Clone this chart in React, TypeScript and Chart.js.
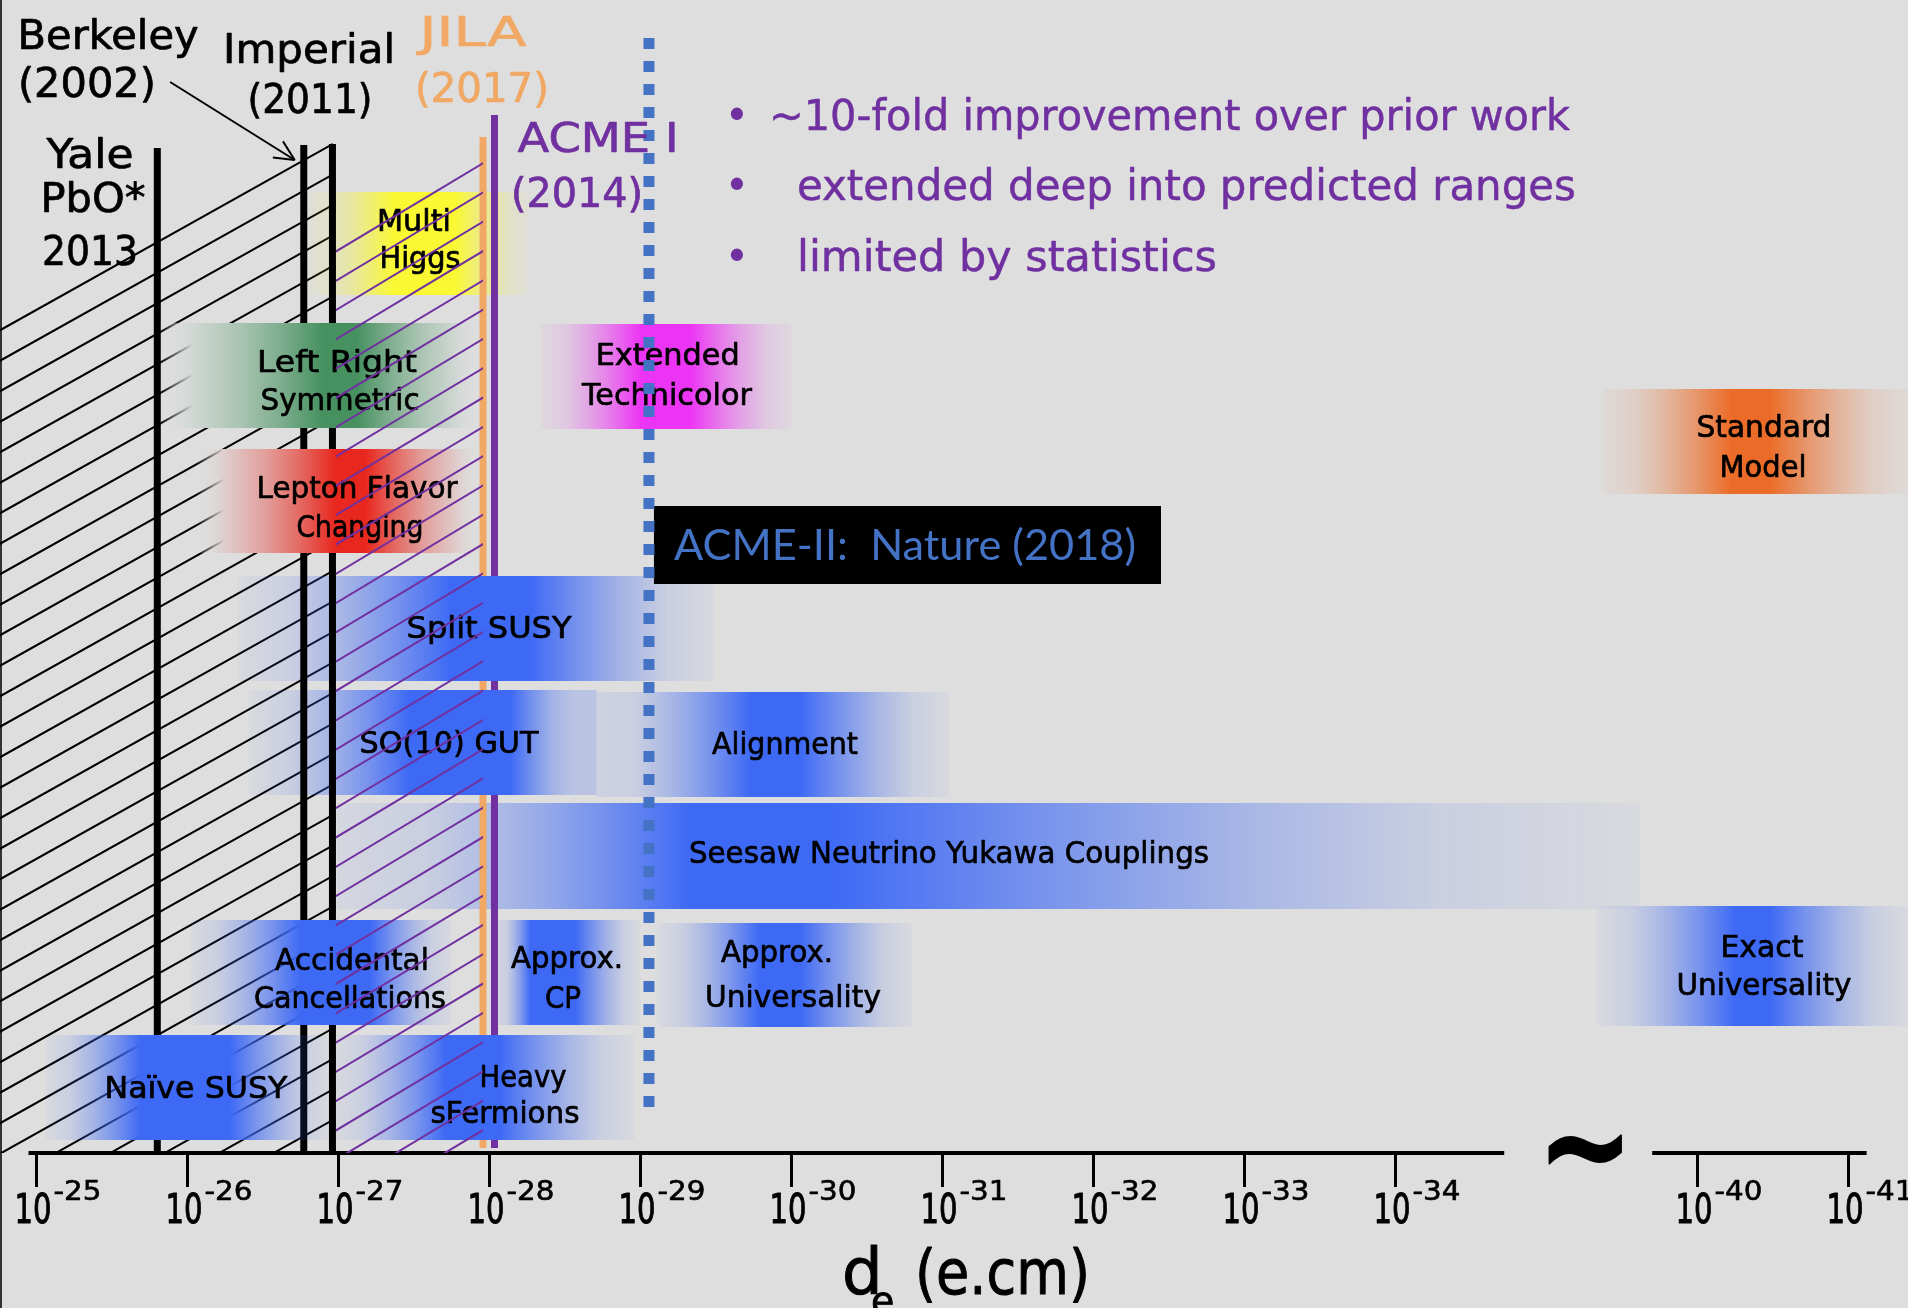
import React, { useEffect, useRef } from 'react';
import { Chart, registerables } from 'chart.js';

Chart.register(...registerables);

const FONT = "'DejaVu Sans', 'Noto Sans', sans-serif";
const BOX_FONT = "Lato, 'Open Sans', sans-serif";

// x value p stands for |d_e| = 10^-p e·cm ; the axis is broken between 10^-34 and 10^-40
const tickExponents = [25, 26, 27, 28, 29, 30, 31, 32, 33, 34, 40, 41];
const breakAfter = 35;
const breakShift = 4;
const expToPos = (e: number) => (e > breakAfter ? e - breakShift : e);

// axis line pieces (in axis position units)
const axisFrom = [24.947, 35.70];
const axisTo = [34.72, 37.12];

// experimental limits (log10 magnitude)
const limitNames = ['Yale PbO* 2013', 'Berkeley 2002', 'Imperial 2011', 'JILA 2017', 'ACME I 2014'];
const limitLog = [25.80, 26.77, 26.96, 27.957, 28.033];
const limitTop = [10.05, 10.08, 10.09, 10.16, 10.38];
const limitBottom = [0, 0, 0, 0.05, 0.05];
const acme2Log = 29.056;
const acme2Bottom = 0.40;
const acme2Top = 11.15;

// theory prediction bands (log10 magnitude ranges, rows)
const bandNames = [
  'Multi Higgs', 'Left Right Symmetric', 'Extended Technicolor', 'Standard Model',
  'Lepton Flavor Changing', 'Split SUSY', 'SO(10) GUT', 'Alignment',
  'Seesaw Neutrino Yukawa Couplings', 'Accidental Cancellations', 'Approx. CP',
  'Approx. Universality', 'Exact Universality', 'Naïve SUSY', 'Heavy sFermions',
];
const bandFrom = [26.80, 25.82, 28.34, 35.37, 26.06, 26.33, 26.41, 28.71, 26.99, 26.02, 28.06, 29.11, 35.33, 25.06, 26.98];
const bandCoreFrom = [27.37, 26.90, 29.00, 36.22, 26.98, 27.74, 27.47, 29.73, 29.33, 26.75, 28.27, 29.79, 36.25, 25.69, 27.71];
const bandCoreTo = [27.77, 27.12, 29.33, 36.48, 27.18, 28.27, 28.14, 30.06, 30.26, 27.21, 28.57, 30.06, 36.48, 26.28, 28.07];
const bandTo = [28.26, 27.94, 30.00, 37.40, 27.94, 29.49, 28.71, 31.05, 35.62, 27.75, 29.00, 30.80, 37.40, 26.94, 28.96];
const bandLow = [8.58, 7.25, 7.24, 6.59, 6.00, 4.72, 3.58, 3.56, 2.44, 1.28, 1.28, 1.26, 1.27, 0.13, 0.13];
const bandHigh = [9.61, 8.30, 8.29, 7.64, 7.04, 5.77, 4.63, 4.61, 3.50, 2.33, 2.33, 2.30, 2.47, 1.18, 1.18];

// styles
const BG = [222, 222, 222];
const BLUE = [62, 105, 245];
const bandRgb = [
  [250, 248, 50], [70, 145, 95], [236, 52, 244], [235, 108, 40], [232, 40, 30],
  BLUE, BLUE, BLUE, BLUE, BLUE, BLUE, BLUE, BLUE, BLUE, BLUE,
];
const bandEdge = [
  [0.03, 0.03], [0.03, 0.03], [0.03, 0.03], [0.03, 0.03], [0.03, 0.03],
  [0.03, 0.03], [0.03, 0.22], [0.1, 0.03], [0.06, 0.03], [0.03, 0.03],
  [0.1, 0.03], [0.03, 0.03], [0.03, 0.03], [0.03, 0.03], [0.03, 0.03],
];
// fraction of the fade over which a band stays opaque (0 = fade by transparency only)
const bandSolid = [0, 0.8, 0, 0, 0.8, 0, 0, 0, 0, 0, 0, 0, 0, 0, 0];
const bandLayer = [10, 6, 10, 10, 6, 8, 8, 10, 10, 6, 10, 10, 10, 6, 8];
const limitColors = ['#000', '#000', '#000', '#f0a864', '#7030a0'];
const limitLayer = [7, 7, 7, 9, 9];

const PURPLE = '#7030a0';
const ORANGE = '#f0a864';

const bandLabels = [
  { t: 'Multi', x: 27.50, y: 9.22, w: 74 },
  { t: 'Higgs', x: 27.54, y: 8.85, w: 81 },
  { t: 'Left Right', x: 26.99, y: 7.81, w: 160 },
  { t: 'Symmetric', x: 27.01, y: 7.43, w: 159 },
  { t: 'Extended', x: 29.18, y: 7.88, w: 144 },
  { t: 'Technicolor', x: 29.175, y: 7.48, w: 170 },
  { t: 'Standard', x: 36.44, y: 7.16, w: 135 },
  { t: 'Model', x: 36.434, y: 6.76, w: 87 },
  { t: 'Lepton Flavor', x: 27.123, y: 6.55, w: 201 },
  { t: 'Changing', x: 27.142, y: 6.16, w: 127 },
  { t: 'Split SUSY', x: 27.997, y: 5.15, w: 165 },
  { t: 'SO(10) GUT', x: 27.732, y: 4.00, w: 179 },
  { t: 'Alignment', x: 29.957, y: 3.99, w: 146 },
  { t: 'Seesaw Neutrino Yukawa Couplings', x: 31.043, y: 2.90, w: 520 },
  { t: 'Accidental', x: 27.089, y: 1.83, w: 154 },
  { t: 'Cancellations', x: 27.076, y: 1.45, w: 192 },
  { t: 'Approx.', x: 28.513, y: 1.85, w: 112 },
  { t: 'CP', x: 28.487, y: 1.45, w: 36 },
  { t: 'Approx.', x: 29.904, y: 1.91, w: 112 },
  { t: 'Universality', x: 30.010, y: 1.46, w: 176 },
  { t: 'Exact', x: 36.427, y: 1.96, w: 83 },
  { t: 'Universality', x: 36.44, y: 1.58, w: 175 },
  { t: 'Naïve SUSY', x: 26.056, y: 0.55, w: 183 },
  { t: 'Heavy', x: 28.222, y: 0.66, w: 87 },
  { t: 'sFermions', x: 28.103, y: 0.30, w: 149 },
];

const topLabels = [
  { t: 'Berkeley', x: 25.474, y: 11.04, w: 181, c: '#000' },
  { t: '(2002)', x: 25.334, y: 10.56, w: 138, c: '#000' },
  { t: 'Imperial', x: 26.805, y: 10.90, w: 172, c: '#000' },
  { t: '(2011)', x: 26.811, y: 10.40, w: 125, c: '#000' },
  { t: 'Yale', x: 25.354, y: 9.85, w: 87, c: '#000' },
  { t: 'PbO*', x: 25.374, y: 9.41, w: 105, c: '#000' },
  { t: '2013', x: 25.354, y: 8.88, w: 96, c: '#000' },
  { t: 'JILA', x: 27.891, y: 11.07, w: 107, c: ORANGE },
  { t: '(2017)', x: 27.950, y: 10.51, w: 134, c: ORANGE },
  { t: 'ACME I', x: 28.719, y: 10.01, w: 161, c: PURPLE },
  { t: '(2014)', x: 28.580, y: 9.46, w: 132, c: PURPLE },
];

const bulletLines = [
  '~10-fold improvement over prior work',
  'extended deep into predicted ranges',
  'limited by statistics',
];
const bulletX = [29.851, 30.036, 30.036];
const bulletY = [10.23, 9.53, 8.82];
const bulletW = [801, 779, 420];
const bulletDotX = 29.639;

const arrowFrom = { x: 25.885, y: 10.71 };
const arrowTo = { x: 26.71, y: 9.93 };

const boxFrom = 29.089, boxTo = 32.447, boxLow = 5.69, boxHigh = 6.47;

const blackHatch = {
  xs: [24.758, 26.961, 26.961, 24.758], vs: [8.28, 10.11, 0, 0],
  ax: 26.961, av: 10.09, slope: 0.56, gap: 30.5, color: '#000', width: 2,
};
const purpleHatch = {
  xs: [26.983, 27.957, 27.957, 26.983], vs: [9.036, 9.918, 0, 0],
  ax: 27.937, av: 9.88, slope: 0.6, gap: 29.3, color: PURPLE, width: 2,
};

const clamp01 = (v: number) => Math.max(0, Math.min(1, v));

function bandGradient(chart: any, i: number) {
  const xs = chart.scales && chart.scales.x;
  if (!xs || !chart.chartArea) return 'rgba(0,0,0,0)';
  const x0 = xs.getPixelForValue(bandFrom[i]);
  const c0 = xs.getPixelForValue(bandCoreFrom[i]);
  const c1 = xs.getPixelForValue(bandCoreTo[i]);
  const x1 = xs.getPixelForValue(bandTo[i]);
  const span = x1 - x0;
  const g = chart.ctx.createLinearGradient(x0, 0, x1, 0);
  const rgb = bandRgb[i];
  const [eL, eR] = bandEdge[i];
  const solid = bandSolid[i];
  const colAt = (d: number, edge: number) => {
    const f = Math.pow(1 - d, 1.5);
    if (solid > 0) {
      const m = rgb.map((c, k) => Math.round(BG[k] + (c - BG[k]) * f));
      const a = d <= solid ? 1 : Math.max(edge, 1 - (d - solid) / (1 - solid));
      return `rgba(${m[0]},${m[1]},${m[2]},${a})`;
    }
    return `rgba(${rgb[0]},${rgb[1]},${rgb[2]},${Math.max(edge, f)})`;
  };
  const ds = solid > 0 ? [0, 0.25, 0.5, solid, 1] : [0, 0.25, 0.5, 0.75, 1];
  for (const d of [...ds].reverse()) {
    const x = c0 - (c0 - x0) * d;
    g.addColorStop(clamp01((x - x0) / span), colAt(d, eL));
  }
  for (const d of ds) {
    const x = c1 + (x1 - c1) * d;
    g.addColorStop(clamp01((x - x0) / span), colAt(d, eR));
  }
  return g;
}

function drawHatch(chart: any, h: any) {
  const ctx = chart.ctx;
  const xs = chart.scales.x, ys = chart.scales.y;
  const px = h.xs.map((v: number) => xs.getPixelForValue(v));
  const py = h.vs.map((v: number) => ys.getPixelForValue(v));
  ctx.save();
  ctx.beginPath();
  px.forEach((x: number, i: number) => (i ? ctx.lineTo(x, py[i]) : ctx.moveTo(x, py[i])));
  ctx.closePath();
  ctx.clip();
  const X0 = Math.min(...px) - 5, X1 = Math.max(...px) + 5;
  const ax = xs.getPixelForValue(h.ax), ay = ys.getPixelForValue(h.av);
  ctx.strokeStyle = h.color;
  ctx.lineWidth = h.width;
  ctx.beginPath();
  for (let k = -60; k <= 60; k++) {
    ctx.moveTo(X0, ay + h.slope * (ax - X0) + k * h.gap);
    ctx.lineTo(X1, ay + h.slope * (ax - X1) + k * h.gap);
  }
  ctx.stroke();
  ctx.restore();
}

function drawAt(ctx: any, s: string, x: number, y: number, size: number, width: number | null,
  color: string, align: string, family = FONT, weight = 'normal', stroke = 0) {
  ctx.save();
  ctx.font = `${weight} ${size}px ${family}`;
  ctx.fillStyle = color;
  ctx.strokeStyle = color;
  ctx.textBaseline = 'alphabetic';
  ctx.textAlign = align;
  const w = ctx.measureText(s).width;
  ctx.translate(x, y);
  if (width && w > 0) ctx.scale(width / w, 1);
  ctx.fillText(s, 0, 0);
  if (stroke > 0) {
    ctx.lineWidth = stroke;
    ctx.lineJoin = 'round';
    ctx.strokeText(s, 0, 0);
  }
  ctx.restore();
}

function drawText(chart: any, s: string, p: number, v: number, size: number, width: number | null,
  color: string, align = 'center', family = FONT, weight = 'normal', stroke = 0) {
  drawAt(chart.ctx, s, chart.scales.x.getPixelForValue(p), chart.scales.y.getPixelForValue(v),
    size, width, color, align, family, weight, stroke);
}

const decorPlugin = {
  id: 'edmDecor',
  beforeDatasetsDraw(chart: any) {
    drawHatch(chart, blackHatch);
  },
  beforeDatasetDraw(chart: any, args: any) {
    if (chart.data.datasets[args.index].label === 'ACME II (2018)') {
      bandLabels.forEach((l) => drawText(chart, l.t, l.x, l.y, 31, l.w, '#000', 'center', FONT, 'normal', 0.7));
      drawHatch(chart, purpleHatch);
    }
  },
  afterDraw(chart: any) {
    const ctx = chart.ctx;
    const xs = chart.scales.x, ys = chart.scales.y;
    // tick labels
    const y0 = ys.getPixelForValue(0);
    xs.ticks.forEach((t: any, i: number) => {
      const X = xs.getPixelForValue(t.value);
      drawAt(ctx, '10', X + 15, y0 + 70, 41, 37, '#000', 'right', FONT, 'normal', 1);
      drawAt(ctx, '-' + tickExponents[i], X + 17, y0 + 47, 27, 48, '#000', 'left', FONT, 'normal', 0.6);
    });
    // axis title
    drawText(chart, 'd', 30.334, -1.41, 64, null, '#000', 'left', FONT, 'normal', 1);
    drawText(chart, 'e', 30.526, -1.61, 38, null, '#000', 'left', FONT, 'normal', 0.8);
    drawText(chart, '(e.cm)', 30.818, -1.41, 62, 175, '#000', 'left', FONT, 'normal', 1);
    // break mark
    drawText(chart, '~', 35.256, -0.40, 140, 96, '#000', 'center', FONT, 'bold', 2);
    // experiment labels
    topLabels.forEach((l) => drawText(chart, l.t, l.x, l.y, 40, l.w, l.c, 'center', FONT, 'normal', 0.7));
    // bullets
    bulletLines.forEach((s, i) => {
      drawText(chart, '•', bulletDotX, bulletY[i], 42, null, PURPLE, 'center');
      drawText(chart, s, bulletX[i], bulletY[i], 42, bulletW[i], PURPLE, 'left', FONT, 'normal', 0.5);
    });
    // ACME-II box text
    drawText(chart, 'ACME-II:  Nature (2018)', 29.222, 5.93, 42, 462, '#4472c4', 'left', BOX_FONT);
    // arrowhead
    const ex = xs.getPixelForValue(arrowTo.x), ey = ys.getPixelForValue(arrowTo.y);
    const sx = xs.getPixelForValue(arrowFrom.x), sy = ys.getPixelForValue(arrowFrom.y);
    const ang = Math.atan2(ey - sy, ex - sx);
    ctx.save();
    ctx.strokeStyle = '#000';
    ctx.lineWidth = 2;
    ctx.beginPath();
    for (const da of [-0.45, 0.45]) {
      ctx.moveTo(ex, ey);
      ctx.lineTo(ex - 22 * Math.cos(ang + da), ey - 22 * Math.sin(ang + da));
    }
    ctx.stroke();
    ctx.restore();
  },
};

export default function App() {
  const ref = useRef<HTMLCanvasElement>(null);
  useEffect(() => {
    const datasets: any[] = [];
    bandNames.forEach((name, i) => {
      datasets.push({
        label: name,
        data: [
          { x: bandFrom[i], y: bandLow[i] }, { x: bandTo[i], y: bandLow[i] },
          { x: bandTo[i], y: bandHigh[i] }, { x: bandFrom[i], y: bandHigh[i] },
        ],
        showLine: true,
        fill: 'shape',
        borderWidth: 0,
        borderColor: 'rgba(0,0,0,0)',
        backgroundColor: (c: any) => bandGradient(c.chart, i),
        pointRadius: 0,
        order: bandLayer[i],
      });
    });
    limitNames.forEach((name, i) => {
      datasets.push({
        label: name,
        data: [{ x: limitLog[i], y: limitBottom[i] }, { x: limitLog[i], y: limitTop[i] }],
        showLine: true,
        borderColor: limitColors[i],
        borderWidth: 7,
        borderCapStyle: 'butt',
        pointRadius: 0,
        order: limitLayer[i],
      });
    });
    axisFrom.forEach((f, i) => {
      datasets.push({
        label: 'axis ' + i,
        data: [{ x: f, y: 0 }, { x: axisTo[i], y: 0 }],
        showLine: true,
        borderColor: '#000',
        borderWidth: 4,
        pointRadius: 0,
        order: 5,
      });
    });
    datasets.push({
      label: 'ACME-II box',
      data: [
        { x: boxFrom, y: boxLow }, { x: boxTo, y: boxLow },
        { x: boxTo, y: boxHigh }, { x: boxFrom, y: boxHigh },
      ],
      showLine: true,
      fill: 'shape',
      borderWidth: 0,
      borderColor: 'rgba(0,0,0,0)',
      backgroundColor: '#000',
      pointRadius: 0,
      order: 4,
    });
    datasets.push({
      label: 'ACME II (2018)',
      data: [{ x: acme2Log, y: acme2Top }, { x: acme2Log, y: acme2Bottom }],
      showLine: true,
      borderColor: '#4472c4',
      borderWidth: 11,
      borderDash: [11, 12],
      borderCapStyle: 'butt',
      pointRadius: 0,
      order: 3,
    });
    datasets.push({
      label: 'Berkeley arrow',
      data: [arrowFrom, arrowTo],
      showLine: true,
      borderColor: '#000',
      borderWidth: 2,
      pointRadius: 0,
      order: 2,
    });

    const chart = new Chart(ref.current as HTMLCanvasElement, {
      type: 'scatter',
      data: { datasets },
      options: {
        animation: false,
        responsive: false,
        devicePixelRatio: 1,
        events: [],
        layout: { padding: 0 },
        elements: { point: { radius: 0, hoverRadius: 0, hitRadius: 0 }, line: { tension: 0 } },
        plugins: { legend: { display: false }, tooltip: { enabled: false }, title: { display: false } },
        scales: {
          x: {
            type: 'linear',
            min: 24.7583,
            max: 37.394,
            position: { y: 0 },
            border: { display: false },
            grid: {
              drawOnChartArea: false, drawTicks: true, tickLength: 34, tickWidth: 3,
              tickColor: '#000', color: '#000', lineWidth: 3,
            },
            ticks: { display: false },
            afterBuildTicks: (s: any) => {
              s.ticks = tickExponents.map((e) => ({ value: expToPos(e) }));
            },
          },
          y: { type: 'linear', min: -1.55, max: 11.53, display: false },
        },
      } as any,
      plugins: [decorPlugin as any],
    });
    return () => chart.destroy();
  }, []);

  return (
    <div
      style={{
        position: 'absolute', left: 0, top: 0, width: 1908, height: 1308,
        background: '#dedede', boxShadow: 'inset 2px 0 0 #333', overflow: 'hidden',
      }}
    >
      <canvas ref={ref} width={1908} height={1308} style={{ display: 'block', width: 1908, height: 1308 }} />
    </div>
  );
}
